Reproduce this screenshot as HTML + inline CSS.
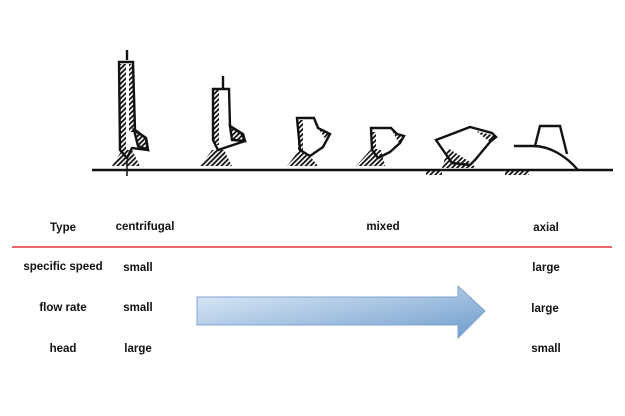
<!DOCTYPE html>
<html><head><meta charset="utf-8"><style>
body{margin:0;background:#fff;width:625px;height:416px;overflow:hidden;position:relative;font-family:"Liberation Sans",sans-serif;font-weight:bold;font-size:11.5px;color:#111}
.t{position:absolute;transform:translate(-50%,-50%);white-space:nowrap}
</style></head><body>
<svg width="625" height="416" style="position:absolute;left:0;top:0">
<defs>
<pattern id="h" width="3.5" height="3.5" patternUnits="userSpaceOnUse" patternTransform="rotate(45)"><rect width="1.8" height="3.5" fill="#111"/></pattern>
<linearGradient id="g" x1="0" y1="0" x2="1" y2="1"><stop offset="0" stop-color="#e3eef9"/><stop offset="1" stop-color="#6d9bcc"/></linearGradient>
</defs>
<g stroke="#111" stroke-width="2.4" fill="none">
<line x1="92" y1="170" x2="613" y2="170"/>
<!-- pump 1 -->
<line x1="127" y1="50" x2="127" y2="60"/>
<path d="M119 62 L133 62 L135 130 L146 138 L148 150 L132 148 L127 158 L120 150 Z" fill="#fff"/>
<rect x="120" y="64" width="6" height="86" fill="url(#h)" stroke="none"/>
<rect x="129" y="64" width="5" height="68" fill="url(#h)" stroke="none"/>
<path d="M134 130 L146 138 L148 150 L138 146 Z" fill="url(#h)"/>
<path d="M112 166 L122 150 L132 150 L140 166 Z" fill="url(#h)" stroke="none"/>
<line x1="127" y1="160" x2="127" y2="176" stroke-width="1.5"/>
<!-- pump 2 -->
<line x1="223" y1="76" x2="223" y2="88"/>
<path d="M213 89 L229 89 L230 126 L242 134 L245 141 L224 148 L218 150 L213 140 Z" fill="#fff"/>
<rect x="214" y="90" width="5" height="55" fill="url(#h)" stroke="none"/>
<path d="M230 126 L243 134 L245 141 L232 140 Z" fill="url(#h)"/>
<path d="M200 166 L212 150 L224 150 L232 166 Z" fill="url(#h)" stroke="none"/>
<!-- pump 3 -->
<path d="M297 118 L314 118 L318 128 L330 134 L323 147 L310 156 L300 150 Z" fill="#fff"/>
<rect x="298" y="120" width="5" height="30" fill="url(#h)" stroke="none"/>
<path d="M318 128 L330 134 L326 140 Z" fill="url(#h)" stroke="none"/>
<path d="M287 166 L300 149 L310 156 L318 166 Z" fill="url(#h)" stroke="none"/>
<!-- pump 4 -->
<path d="M371 128 L391 128 L397 134 L404 136 L400 143 L390 152 L378 158 L372 150 Z" fill="#fff"/>
<path d="M391 129 L397 134 L404 136 L399 143 Z" fill="url(#h)" stroke="none"/>
<rect x="372" y="132" width="4" height="20" fill="url(#h)" stroke="none"/>
<path d="M356 166 L372 148 L381 150 L385 166 Z" fill="url(#h)" stroke="none"/>
<!-- pump 5 -->
<path d="M436 140 L470 127 L492 133 L496 137 L490 142 L475 160 L470 165 L452 163 Z" fill="#fff"/>
<path d="M476 131 L496 136 L490 142 Z" fill="url(#h)" stroke="none"/>
<path d="M442 168 L448 148 L470 162 L476 168 Z" fill="url(#h)" stroke="none"/>
<rect x="426" y="171" width="16" height="4" fill="url(#h)" stroke="none"/>
<!-- pump 6 -->
<path d="M514 146 L533 146 C550 146 566 156 578 170" />
<path d="M535 146 L540 126 L560 126 L567 154" />
<rect x="505" y="171" width="24" height="4" fill="url(#h)" stroke="none"/>
</g>
<line x1="12" y1="247" x2="612" y2="247" stroke="#e8333a" stroke-width="1.5"/>
<path d="M197 297 L458 297 L458 286 L485 311 L458 338 L458 325 L197 325 Z" fill="url(#g)" stroke="#7fa4cf" stroke-width="1"/>
</svg>
<div class="t" style="left:63px;top:228px">Type</div>
<div class="t" style="left:145px;top:227px">centrifugal</div>
<div class="t" style="left:383px;top:227px">mixed</div>
<div class="t" style="left:546px;top:228px">axial</div>
<div class="t" style="left:63px;top:267px">specific speed</div>
<div class="t" style="left:138px;top:268px">small</div>
<div class="t" style="left:546px;top:268px">large</div>
<div class="t" style="left:63px;top:308px">flow rate</div>
<div class="t" style="left:138px;top:308px">small</div>
<div class="t" style="left:545px;top:309px">large</div>
<div class="t" style="left:63px;top:349px">head</div>
<div class="t" style="left:138px;top:349px">large</div>
<div class="t" style="left:546px;top:349px">small</div>
</body></html>
